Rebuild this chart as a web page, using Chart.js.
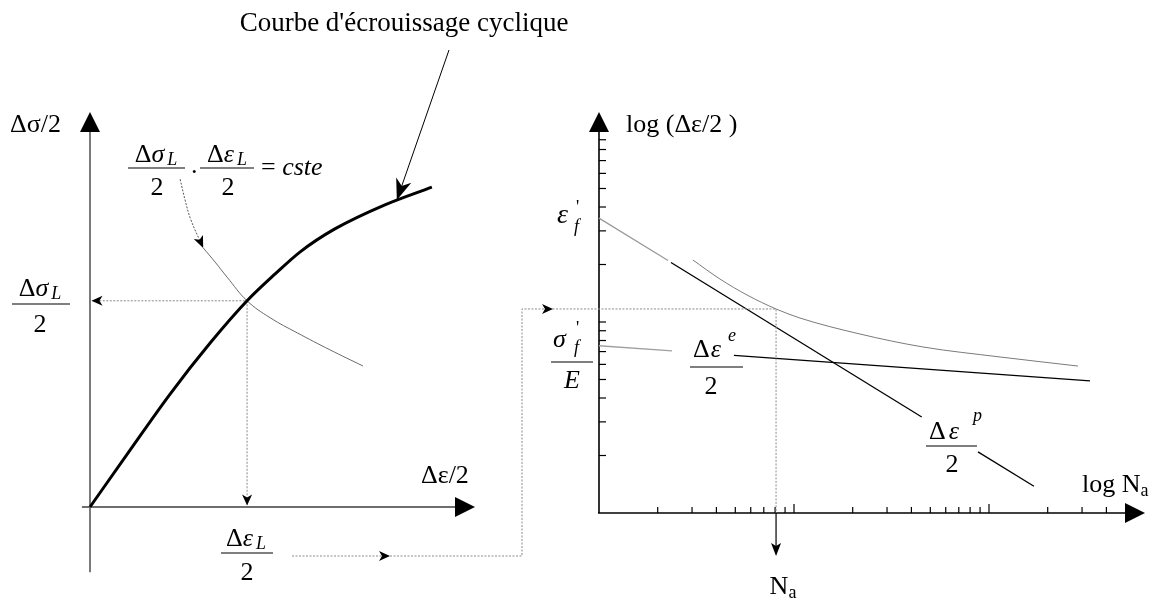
<!DOCTYPE html>
<html>
<head>
<meta charset="utf-8">
<script src="https://cdn.jsdelivr.net/npm/chart.js@4/dist/chart.umd.min.js"></script>
<style>
  html, body { margin: 0; padding: 0; background: #fff; overflow: hidden; }
  #wrap { position: relative; width: 1163px; height: 601px; }
  canvas { display: block; }
</style>
</head>
<body>
<div id="wrap"><canvas id="c" width="1163" height="601"></canvas></div>
<script>
// ================= DATA =================
// Left diagram: cyclic hardening curve (Δε/2 , Δσ/2), normalised units
const cyclicStrain = [0, 0.104, 0.208, 0.312, 0.408, 0.481, 0.546, 0.636, 0.766, 0.888];
const cyclicStress = [0, 0.144, 0.286, 0.415, 0.522, 0.590, 0.646, 0.704, 0.765, 0.810];
// iso-product curve  Δσ_L/2 · Δε_L/2 = cste
const hypStrain = [0.294, 0.325, 0.356, 0.408, 0.468, 0.538, 0.623, 0.709];
const hypStress = [0.656, 0.620, 0.582, 0.522, 0.479, 0.441, 0.398, 0.357];
// dotted leader from the formula to the curve
const leaderStrain = [0.234, 0.247, 0.262, 0.294];
const leaderStress = [0.830, 0.777, 0.727, 0.656];
// limit point (intersection)
const limitStrain = 0.408;
const limitStress = 0.522;

// Right diagram: log(Δε/2) vs log N (Manson-Coffin / Basquin)
const plasticNearN   = [100, 226];
const plasticNearAmp = [0.0350, 0.0210];
const plasticN1   = [234, 4520];
const plasticAmp1 = [0.0205, 0.00318];
const plasticN2   = [8780, 17000];
const plasticAmp2 = [0.00209, 0.00138];
const elasticNearN   = [100, 237];
const elasticNearAmp = [0.00751, 0.00706];
const elasticN   = [492, 32950];
const elasticAmp = [0.00669, 0.00492];
const totalN   = [303, 417, 574, 809, 1073, 2180, 4586, 11390, 28610];
const totalAmp = [0.02112, 0.01679, 0.01385, 0.0117, 0.01049, 0.00865, 0.00740, 0.00656, 0.00588];
// operating point
const cyclesNa = 809;
const strainAmpA = 0.0117;
// tick marks
const cycleTicks = [200, 300, 400, 500, 600, 700, 800, 900, 1000, 2000, 3000, 4000, 5000, 6000, 7000, 8000, 9000, 10000, 20000, 30000, 40000];
const cycleMajorTicks = [1000, 10000];
const ampTicks = [0.002, 0.003, 0.004, 0.005, 0.006, 0.007, 0.008, 0.009, 0.01, 0.02, 0.03, 0.04, 0.05, 0.06, 0.07, 0.08, 0.09];
// axis origins / extents
const rightOriginN = 100, rightOriginAmp = 0.001;
const rightTipN = 63096, rightTipAmp = 0.1257;

// ================= HELPERS =================
const FONT = '"Liberation Serif", "Times New Roman", serif';
function setFont(ctx, size, italic) { ctx.font = (italic ? 'italic ' : '') + size + 'px ' + FONT; }
function drawRuns(ctx, parts, x, y, align) {
  let w = 0;
  const ws = parts.map(p => { setFont(ctx, p.s || 26, p.i); const m = ctx.measureText(p.t).width + (p.gap || 0); w += m; return m; });
  let cx = align === 'center' ? x - w / 2 : (align === 'right' ? x - w : x);
  parts.forEach((p, k) => {
    setFont(ctx, p.s || 26, p.i);
    ctx.fillText(p.t, cx + (p.gap || 0), y + (p.dy || 0));
    cx += ws[k];
  });
  return w;
}
function hline(ctx, x1, x2, y, w) { ctx.beginPath(); ctx.moveTo(x1, y); ctx.lineTo(x2, y); ctx.lineWidth = w || 1.2; ctx.strokeStyle = '#000'; ctx.stroke(); }
function arrowHead(ctx, x, y, angle, len, half, notch, color) {
  ctx.save(); ctx.translate(x, y); ctx.rotate(angle);
  ctx.beginPath(); ctx.moveTo(0, 0); ctx.lineTo(-len, -half); ctx.lineTo(-len + notch, 0); ctx.lineTo(-len, half); ctx.closePath();
  ctx.fillStyle = color || '#000'; ctx.fill(); ctx.restore();
}
function seg(ctx, pts, color, w, dash) {
  ctx.save(); ctx.beginPath(); ctx.moveTo(pts[0][0], pts[0][1]);
  for (let i = 1; i < pts.length; i++) ctx.lineTo(pts[i][0], pts[i][1]);
  ctx.strokeStyle = color; ctx.lineWidth = w; ctx.setLineDash(dash || []); ctx.stroke(); ctx.restore();
}
const zip = (xs, ys) => xs.map((x, i) => ({ x: x, y: ys[i] }));

const DSL = [{ t: 'Δ' }, { t: 'σ', i: true }, { t: 'L', i: true, s: 18, dy: 5, gap: 3 }];
const DEL = [{ t: 'Δ' }, { t: 'ε', i: true }, { t: 'L', i: true, s: 18, dy: 5, gap: 3 }];
const TWO = [{ t: '2' }];

// ================= DECORATION PLUGIN =================
const diagram = {
  id: 'diagram',
  beforeDatasetsDraw(chart) {
    const ctx = chart.ctx, s = chart.scales;
    const xL = v => s.xL.getPixelForValue(v), yL = v => s.yL.getPixelForValue(v);
    const xR = v => s.xR.getPixelForValue(v), yR = v => s.yR.getPixelForValue(v);
    ctx.save();
    // ---- left axes ----
    const ox = xL(0), oy = yL(0);
    seg(ctx, [[ox, yL(-0.165)], [ox, yL(1.0) + 18]], '#7a7a7a', 2);
    arrowHead(ctx, ox, yL(1.0), -Math.PI / 2, 20, 10, 0, '#000');
    seg(ctx, [[xL(-0.021), oy], [xL(1.0) - 18, oy]], '#6e6e6e', 2);
    arrowHead(ctx, xL(1.0), oy, 0, 20, 10, 0, '#000');
    // ---- right axes ----
    const rx = xR(rightOriginN), ry = yR(rightOriginAmp);
    seg(ctx, [[rx, ry], [rx, yR(rightTipAmp) + 18]], '#000', 1.6);
    arrowHead(ctx, rx, yR(rightTipAmp), -Math.PI / 2, 20, 10, 0, '#000');
    seg(ctx, [[rx - 1, ry], [xR(rightTipN) - 18, ry]], '#000', 1.6);
    arrowHead(ctx, xR(rightTipN), ry, 0, 20, 10, 0, '#000');
    ampTicks.forEach(v => seg(ctx, [[rx, yR(v)], [rx + 7, yR(v)]], '#000', 1.2));
    cycleTicks.forEach(v => {
      const h = cycleMajorTicks.includes(v) ? 9 : 6;
      seg(ctx, [[xR(v), ry], [xR(v), ry - h]], '#000', 1.2);
    });
    ctx.restore();
  },
  afterDatasetsDraw(chart) {
    const ctx = chart.ctx, s = chart.scales;
    const xL = v => s.xL.getPixelForValue(v), yL = v => s.yL.getPixelForValue(v);
    const xR = v => s.xR.getPixelForValue(v), yR = v => s.yR.getPixelForValue(v);
    ctx.save();
    const gray = '#8a8a8a', dot = [2, 1.5];
    // ---- left projections arrowheads ----
    const lx = xL(limitStrain), ly = yL(limitStress);
    arrowHead(ctx, xL(0) + 1.5, ly, Math.PI, 11, 5, 3, '#000');
    arrowHead(ctx, lx, yL(0) - 1.5, Math.PI / 2, 11, 5, 3, '#000');
    // leader arrowhead
    const n = leaderStrain.length;
    const ax = xL(leaderStrain[n - 1]), ay = yL(leaderStress[n - 1]);
    const bx = xL(leaderStrain[n - 2]), by = yL(leaderStress[n - 2]);
    arrowHead(ctx, ax, ay, Math.atan2(ay - by, ax - bx), 12, 5, 3, '#000');
    // pointer from the title to the curve
    const tx = xL(0.797), ty = yL(0.777);
    seg(ctx, [[449, 50], [tx, ty]], '#000', 1);
    arrowHead(ctx, tx, ty, Math.atan2(ty - 50, tx - 449), 21, 8, 6, '#000');
    // ---- connector from left Δε_L/2 to the right diagram ----
    const py = yR(strainAmpA), nx = xR(cyclesNa);
    seg(ctx, [[292, 556], [522, 556], [522, py], [nx, py], [nx, yR(rightOriginAmp)]], gray, 1, dot);
    arrowHead(ctx, 390, 556, 0, 11, 5, 3, '#000');
    arrowHead(ctx, 553, py, 0, 11, 5, 3, '#000');
    seg(ctx, [[nx, yR(rightOriginAmp)], [nx, 550]], '#000', 1.2);
    arrowHead(ctx, nx, 556, Math.PI / 2, 13, 5, 3, '#000');

    // ---- text ----
    ctx.fillStyle = '#000'; ctx.textBaseline = 'middle';
    setFont(ctx, 27, false);
    ctx.textAlign = 'center'; ctx.fillText("Courbe d'écrouissage cyclique", 404, 24); ctx.textAlign = 'left';
    drawRuns(ctx, [{ t: 'Δσ/2' }], 10, 125);
    // left fraction Δσ_L/2
    drawRuns(ctx, DSL, 40, 289, 'center'); hline(ctx, 12, 70, 304); drawRuns(ctx, TWO, 40, 325, 'center');
    // top formula
    drawRuns(ctx, DSL, 156, 155, 'center'); hline(ctx, 128, 185, 168); drawRuns(ctx, TWO, 157, 188, 'center');
    drawRuns(ctx, [{ t: '.' }], 191, 166);
    drawRuns(ctx, DEL, 227, 155, 'center'); hline(ctx, 200, 254, 168); drawRuns(ctx, TWO, 228, 188, 'center');
    drawRuns(ctx, [{ t: '= ' }, { t: 'cste', i: true }], 261, 168);
    // Δε/2 axis label
    drawRuns(ctx, [{ t: 'Δε/2' }], 421, 476);
    // Δε_L/2 under left axis
    drawRuns(ctx, DEL, 246, 539, 'center'); hline(ctx, 221, 273, 553); drawRuns(ctx, TWO, 247, 573, 'center');
    // right axis labels
    drawRuns(ctx, [{ t: 'log (Δε/2 )' }], 626, 125);
    drawRuns(ctx, [{ t: 'log N' }, { t: 'a', s: 18, dy: 6 }], 1082, 485);
    drawRuns(ctx, [{ t: 'N' }, { t: 'a', s: 18, dy: 6 }], 783, 587, 'center');
    // ε'_f
    drawRuns(ctx, [{ t: 'ε', i: true, s: 28 }], 557, 216);
    drawRuns(ctx, [{ t: "'", s: 18 }], 576, 208);
    drawRuns(ctx, [{ t: 'f', i: true, s: 18 }], 574, 227);
    // σ'_f / E
    drawRuns(ctx, [{ t: 'σ', i: true }], 553, 340);
    drawRuns(ctx, [{ t: "'", s: 18 }], 576, 329);
    drawRuns(ctx, [{ t: 'f', i: true, s: 18 }], 574, 348);
    hline(ctx, 551, 593, 362);
    drawRuns(ctx, [{ t: 'E', i: true }], 572, 381, 'center');
    // Δε^e / 2
    drawRuns(ctx, [{ t: 'Δ' }, { t: 'ε', i: true, gap: 1 }], 693, 350);
    drawRuns(ctx, [{ t: 'e', i: true, s: 18 }], 728, 336);
    hline(ctx, 690, 743, 367);
    drawRuns(ctx, TWO, 711, 387, 'center');
    // Δε^p / 2
    drawRuns(ctx, [{ t: 'Δ' }, { t: 'ε', i: true, gap: 3 }], 929, 432);
    drawRuns(ctx, [{ t: 'p', i: true, s: 18 }], 973, 416);
    hline(ctx, 926, 977, 446);
    drawRuns(ctx, TWO, 952, 465, 'center');
    ctx.restore();
  }
};

// ================= CHART =================
const L = (ds) => Object.assign({ pointRadius: 0, fill: false, borderCapStyle: 'butt' }, ds);
new Chart(document.getElementById('c'), {
  type: 'line',
  data: {
    datasets: [
      L({ label: 'Courbe cyclique', data: zip(cyclicStrain, cyclicStress), xAxisID: 'xL', yAxisID: 'yL', borderColor: '#000', borderWidth: 3, cubicInterpolationMode: 'monotone' }),
      L({ label: 'cste', data: zip(hypStrain, hypStress), xAxisID: 'xL', yAxisID: 'yL', borderColor: '#6a6a6a', borderWidth: 1, tension: 0.4 }),
      L({ label: 'leader', data: zip(leaderStrain, leaderStress), xAxisID: 'xL', yAxisID: 'yL', borderColor: '#555', borderWidth: 1, borderDash: [2, 1.5], tension: 0.4 }),
      L({ label: 'proj h', data: [{ x: 0.006, y: limitStress }, { x: limitStrain, y: limitStress }], xAxisID: 'xL', yAxisID: 'yL', borderColor: '#8a8a8a', borderWidth: 1, borderDash: [2, 1.5] }),
      L({ label: 'proj v', data: [{ x: limitStrain, y: limitStress }, { x: limitStrain, y: 0.006 }], xAxisID: 'xL', yAxisID: 'yL', borderColor: '#8a8a8a', borderWidth: 1, borderDash: [2, 1.5] }),
      L({ label: 'plastique (proche)', data: zip(plasticNearN, plasticNearAmp), xAxisID: 'xR', yAxisID: 'yR', borderColor: '#9a9a9a', borderWidth: 1.3 }),
      L({ label: 'plastique 1', data: zip(plasticN1, plasticAmp1), xAxisID: 'xR', yAxisID: 'yR', borderColor: '#000', borderWidth: 1.3 }),
      L({ label: 'plastique 2', data: zip(plasticN2, plasticAmp2), xAxisID: 'xR', yAxisID: 'yR', borderColor: '#000', borderWidth: 1.3 }),
      L({ label: 'élastique (proche)', data: zip(elasticNearN, elasticNearAmp), xAxisID: 'xR', yAxisID: 'yR', borderColor: '#a0a0a0', borderWidth: 1.3 }),
      L({ label: 'élastique', data: zip(elasticN, elasticAmp), xAxisID: 'xR', yAxisID: 'yR', borderColor: '#000', borderWidth: 1.3 }),
      L({ label: 'totale', data: zip(totalN, totalAmp), xAxisID: 'xR', yAxisID: 'yR', borderColor: '#7a7a7a', borderWidth: 1, cubicInterpolationMode: 'monotone' })
    ]
  },
  options: {
    responsive: false, animation: false, devicePixelRatio: 1, events: [],
    layout: { padding: 0 },
    plugins: { legend: { display: false }, tooltip: { enabled: false }, title: { display: false } },
    scales: {
      xL: { type: 'linear', axis: 'x', display: false, min: -90 / 385, max: 1073 / 385 },
      yL: { type: 'linear', axis: 'y', display: false, min: -94 / 395, max: 507 / 395 },
      xR: { type: 'logarithmic', axis: 'x', display: false, bounds: 'data', min: Math.pow(10, 2 - 599 / 195), max: Math.pow(10, 2 + 564 / 195) },
      yR: { type: 'logarithmic', axis: 'y', display: false, bounds: 'data', min: Math.pow(10, -3 - 88 / 191), max: Math.pow(10, -3 + 513 / 191) }
    }
  },
  plugins: [diagram]
});
</script>
</body>
</html>
